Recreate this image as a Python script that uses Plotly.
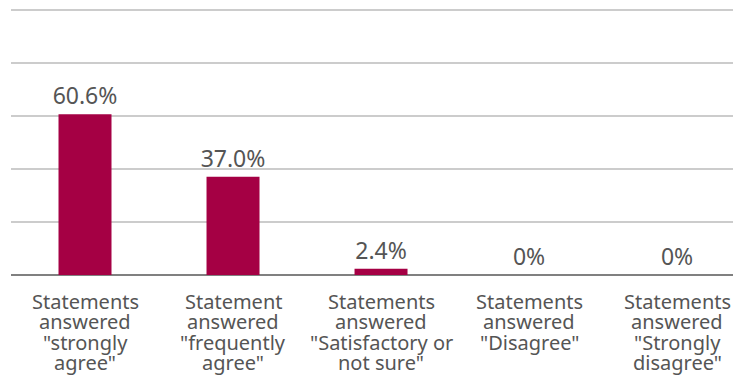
import plotly.graph_objects as go

categories = [
    ['Statements', 'answered', '"strongly', 'agree"'],
    ['Statement', 'answered', '"frequently', 'agree"'],
    ['Statements', 'answered', '"Satisfactory or', 'not sure"'],
    ['Statements', 'answered', '"Disagree"'],
    ['Statements', 'answered', '"Strongly', 'disagree"'],
]
values = [60.6, 37.0, 2.4, 0, 0]
value_labels = ["60.6%", "37.0%", "2.4%", "0%", "0%"]

TEXT = "#555555"
FONT = "Noto Sans, Open Sans, sans-serif"

fig = go.Figure(
    go.Bar(
        x=list(range(len(categories))),
        y=values,
        text=value_labels,
        textposition="outside",
        constraintext="none",
        cliponaxis=False,
        marker=dict(color="#A50044", line=dict(width=0)),
        width=0.358,
        textfont=dict(size=23, color=TEXT, family=FONT),
        hoverinfo="skip",
    )
)

annotations = []
for i, lines in enumerate(categories):
    for k, line in enumerate(lines):
        annotations.append(dict(
            x=i, y=0, xref="x", yref="y",
            text=line, showarrow=False,
            xanchor="center", yanchor="middle",
            yshift=-(26 + 20.5 * k),
            font=dict(size=20, color=TEXT, family=FONT),
        ))

fig.update_layout(
    width=733,
    height=378,
    margin=dict(l=11, r=0, t=7, b=103),
    paper_bgcolor="white",
    plot_bgcolor="white",
    font=dict(family=FONT, color=TEXT, size=16),
    showlegend=False,
    annotations=annotations,
    xaxis=dict(
        range=[-0.5, 4.378],
        showgrid=False,
        showline=False,
        showticklabels=False,
        ticks="",
        zeroline=False,
        fixedrange=True,
    ),
    yaxis=dict(
        range=[0, 101],
        dtick=20,
        showgrid=True,
        gridcolor="#cccccc",
        gridwidth=1.6,
        showticklabels=False,
        zeroline=True,
        zerolinecolor="#808080",
        zerolinewidth=1.5,
        fixedrange=True,
    ),
)

fig.write_html(
    "out.html",
    config={"displayModeBar": False},
    post_script="document.body.style.margin='0';document.documentElement.style.overflow='hidden';",
)
